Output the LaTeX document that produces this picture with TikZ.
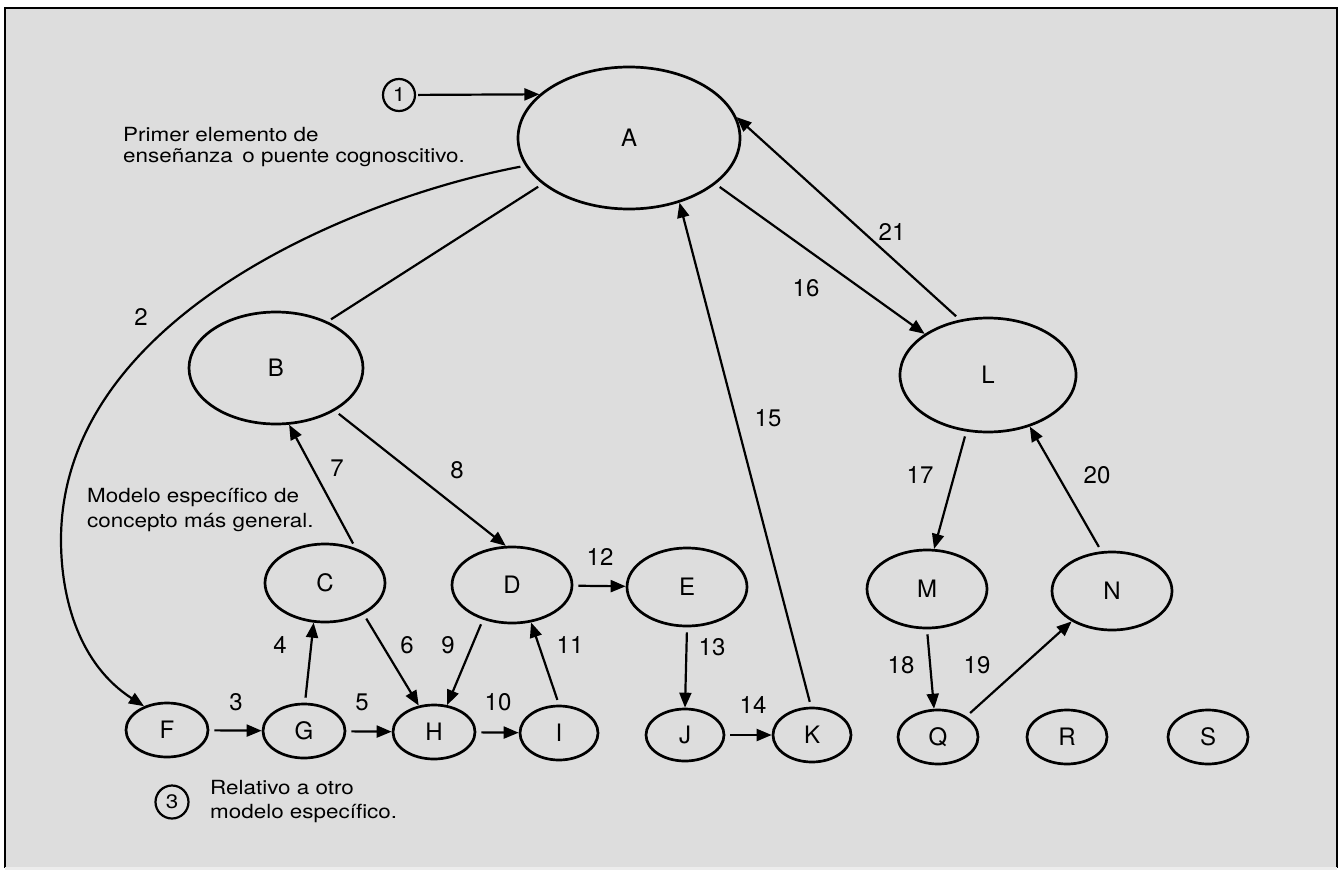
\documentclass[tikz,border=0pt]{standalone}
\usepackage{fontspec}
\setmainfont{TeX Gyre Heros}
\newfontfamily\widefont{TeX Gyre Heros}[FakeStretch=1.15]
\usetikzlibrary{shapes.geometric,arrows.meta}
\definecolor{paper}{RGB}{221,221,221}
\newcommand{\labfont}{\fontsize{24}{28}\selectfont}
\newcommand{\txtfont}{\widefont\fontsize{19.5}{24}\selectfont}
\tikzset{
  ell/.style={ellipse, draw, line width=2.7pt, inner sep=0pt, font=\labfont},
  num/.style={font=\labfont, inner sep=0pt},
  note/.style={font=\txtfont, align=left, anchor=west, inner sep=0pt},
  cnum/.style={circle, draw, line width=2.2pt, inner sep=0pt, minimum size=#1, font=\txtfont},
  conn/.style={line width=2.2pt, shorten <=5pt},
  arr/.style={conn, -{Triangle[length=15pt,width=12pt]}},
}
\begin{document}
\begin{tikzpicture}[x=1pt,y=-1pt]
\useasboundingbox (0,0) rectangle (1343,875);
\fill[white] (0,0) rectangle (1343,875);
\fill[paper] (5,8) rectangle (1337,868);
\draw[line width=2.5pt] (5,868) -- (5,8) -- (1337,8) -- (1337,868);
\draw[line width=3pt, white!85!gray] (5,868) -- (1337,868);

% nodes
\node[ell, minimum width=222pt, minimum height=142pt] (A) at (629,138) {A};
\node[ell, minimum width=174pt, minimum height=112pt] (B) at (276,368) {B};
\node[ell, minimum width=176pt, minimum height=114pt] (L) at (988,375) {L};
\node[ell, minimum width=120pt, minimum height=78pt] (C) at (325,583) {C};
\node[ell, minimum width=120pt, minimum height=76pt] (D) at (512,585) {D};
\node[ell, minimum width=120pt, minimum height=78pt] (E) at (687,587) {E};
\node[ell, minimum width=120pt, minimum height=78pt] (M) at (927,589) {M};
\node[ell, minimum width=120pt, minimum height=78pt] (N) at (1112,591) {N};
\node[ell, minimum width=82pt, minimum height=54pt] (F) at (167,730) {F};
\node[ell, minimum width=82pt, minimum height=54pt] (G) at (304,731) {G};
\node[ell, minimum width=82pt, minimum height=54pt] (H) at (434,732) {H};
\node[ell, minimum width=78pt, minimum height=54pt] (I) at (559,733) {I};
\node[ell, minimum width=78pt, minimum height=52pt] (J) at (685,735) {J};
\node[ell, minimum width=78pt, minimum height=54pt] (K) at (812,735) {K};
\node[ell, minimum width=80pt, minimum height=54pt] (Q) at (938,737) {Q};
\node[ell, minimum width=80pt, minimum height=54pt] (R) at (1067,737) {R};
\node[ell, minimum width=80pt, minimum height=54pt] (S) at (1208,737) {S};

\node[cnum=32pt] (c1) at (399,95) {1};
\node[cnum=33pt] (c3) at (172,802) {3};

% notes
\node[note] (t1) at (123,135) {Primer elemento de};
\node[note] (t2) at (123,158) {enseñanza\, o puente cognoscitivo.};
\node[note] (t3) at (87,497) {Modelo específico de};
\node[note] (t4) at (87,523) {concepto más general.};
\node[note] (t5) at (210,788) {Relativo a otro};
\node[note] (t6) at (210,813) {modelo específico.};

% connectors
\draw[arr, shorten <=2pt] (c1) -- (A.154);
\draw[arr] (A.195) .. controls (360,197) and (61,315) .. (61,540)
           .. controls (61,600) and (80,665) .. (F.134);
\draw[conn, shorten >=4pt] (A.208) -- (B.42);
\draw[arr] (F) -- (G);
\draw[arr] (G.88) -- (C.-106);
\draw[arr] (G) -- (H);
\draw[arr] (C.-39) -- (H.120);
\draw[arr] (C.49) -- (B.-77);
\draw[arr] (B.-36) -- (D.99);
\draw[arr] (D.-130) -- (H.64);
\draw[arr] (H) -- (I);
\draw[arr] (I.90) -- (D.-63);
\draw[arr] (D) -- (E);
\draw[arr] (E.-90) -- (J.90);
\draw[arr] (J) -- (K);
\draw[arr] (K.92) -- (A.-52);
\draw[arr] (A.-28) -- (L.147);
\draw[arr] (L.117) -- (A.11);
\draw[arr] (L.-111) -- (M.80);
\draw[arr] (N.105) -- (L.-51);
\draw[arr] (M.-90) -- (Q.98);
\draw[arr] (Q.36) -- (N.-143);

% connector labels
\node[num] (n2) at (141,317) {2};
\node[num] (n3) at (236,702) {3};
\node[num] (n4) at (280,645) {4};
\node[num] (n5) at (362,702) {5};
\node[num] (n6) at (407,645) {6};
\node[num] (n7) at (337,468) {7};
\node[num] (n8) at (457,470) {8};
\node[num] (n9) at (448,645) {9};
\node[num] (n10) at (498,702) {10};
\node[num] (n11) at (570,645) {11};
\node[num] (n12) at (600,557) {12};
\node[num] (n13) at (712,647) {13};
\node[num] (n14) at (753,705) {14};
\node[num] (n15) at (768,418) {15};
\node[num] (n16) at (806,288) {16};
\node[num] (n17) at (920,475) {17};
\node[num] (n18) at (901,665) {18};
\node[num] (n19) at (977,665) {19};
\node[num] (n20) at (1097,475) {20};
\node[num] (n21) at (892,232) {21};
\end{tikzpicture}
\end{document}
